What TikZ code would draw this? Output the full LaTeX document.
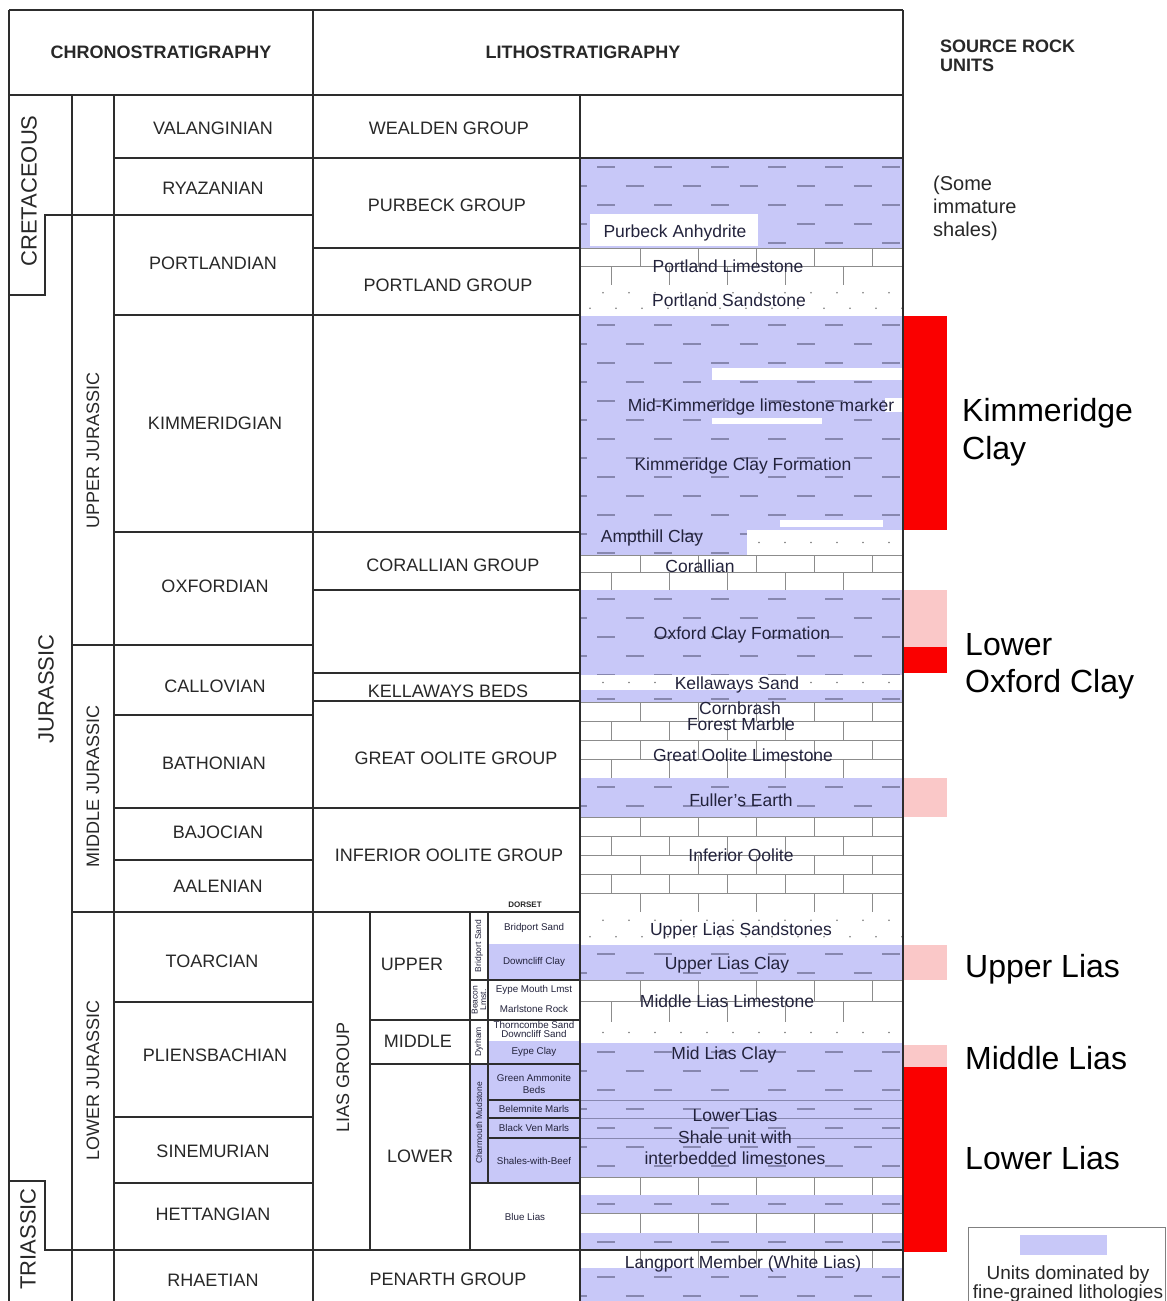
\documentclass[tikz,border=0pt]{standalone}
\usepackage{fontspec}
\setmainfont{Liberation Sans}
\definecolor{purp}{RGB}{200,200,248}
\definecolor{pinkc}{RGB}{250,200,200}
\definecolor{redc}{RGB}{250,0,0}
\definecolor{linec}{RGB}{45,45,45}
\definecolor{txtc}{RGB}{40,40,40}
\definecolor{ltxt}{RGB}{35,35,60}
\definecolor{dashc}{RGB}{135,135,175}
\definecolor{brickc}{RGB}{140,140,140}
\definecolor{dotc}{RGB}{120,120,120}
\tikzset{
 gl/.style={draw=linec, line width=1.1pt},
 shl/.style={draw=dashc, line width=1.2pt},
 lml/.style={draw=brickc, line width=0.9pt},
 stg/.style={font=\fontsize{18pt}{21pt}\selectfont, text=txtc, inner sep=0pt},
 sysn/.style={font=\fontsize{22pt}{26pt}\selectfont, text=txtc, inner sep=0pt, rotate=90},
 hdr/.style={font=\bfseries\fontsize{18pt}{21pt}\selectfont, text=txtc, inner sep=0pt},
 lit/.style={font=\fontsize{17.5pt}{21pt}\selectfont, text=ltxt, inner sep=0pt, text height=12.6pt, text depth=0pt},
 dor/.style={font=\fontsize{9.8pt}{10.5pt}\selectfont, text=ltxt, inner sep=0pt},
 dorv/.style={font=\fontsize{8.5pt}{8.5pt}\selectfont, text=ltxt, inner sep=0pt, rotate=90, align=center},
 bigl/.style={font=\fontsize{32pt}{37pt}\selectfont, text=black, inner sep=0pt, anchor=base west},
 srcl/.style={font=\fontsize{20pt}{23pt}\selectfont, text=txtc, inner sep=0pt, anchor=base west},
}
% shale: purple with staggered dashes
\newcommand\shalefill[4]{%
\begin{scope}
\clip (#1,#2) rectangle (#3,#4);
\fill[purp] (#1,#2) rectangle (#3,#4);
\pgfmathtruncatemacro\nrows{ceil((#4-#2)/19)}
\foreach \k in {0,...,\nrows}{
  \pgfmathsetmacro\yy{#2+9+19*\k}
  \pgfmathsetmacro\off{mod(\k,2)*28.5}
  \foreach \j in {-1,...,6}{
    \draw[shl] ({597+\off+57*\j},\yy) -- ++(18,0);
  }
}
\end{scope}}
% limestone: bricks
\newcommand\limefill[4]{%
\begin{scope}
\clip (#1,#2) rectangle (#3,#4);
\fill[white] (#1,#2) rectangle (#3,#4);
\pgfmathtruncatemacro\nr{max(1,round((#4-#2)/19))}
\pgfmathsetmacro\hh{(#4-#2)/\nr}
\foreach \k in {1,...,\nr}{
  \pgfmathsetmacro\ya{#2+\hh*(\k-1)}
  \pgfmathsetmacro\yb{#2+\hh*\k}
  \draw[lml] (#1,\yb) -- (#3,\yb);
  \pgfmathsetmacro\off{mod(\k,2)*29}
  \foreach \j in {0,...,4}{
    \draw[lml] ({611+\off+58*\j},\ya) -- ({611+\off+58*\j},\yb);
  }
}
\end{scope}
\draw[lml] (#1,#2) -- (#3,#2);}
% sandstone: dots
\newcommand\sandfill[4]{%
\begin{scope}
\clip (#1,#2) rectangle (#3,#4);
\fill[white] (#1,#2) rectangle (#3,#4);
\pgfmathtruncatemacro\nr{max(1,floor((#4-#2)/13))}
\foreach \k in {1,...,\nr}{
  \pgfmathsetmacro\yy{#2+(#4-#2)*(\k-0.5)/\nr}
  \pgfmathsetmacro\off{mod(\k,2)*13}
  \foreach \j in {0,...,12}{
    \fill[dotc] ({590+\off+26*\j},\yy) circle[radius=0.9pt];
  }
}
\end{scope}}
\begin{document}
\begin{tikzpicture}[x=1pt,y=-1pt]
\useasboundingbox (0,0) rectangle (1167,1301);
\fill[white] (0,0) rectangle (1167,1301);

%% lithology column
\shalefill{580}{158}{903}{248}
\fill[white] (590,214) rectangle (758,246);
\limefill{580}{248}{903}{285}
\sandfill{580}{285}{903}{316}
\shalefill{580}{316}{903}{555}
\fill[white] (712,368) rectangle (903,380);
\fill[white] (885,398) rectangle (903,412);
\fill[white] (712,418) rectangle (822,424);
\fill[white] (780,520) rectangle (883,527);
\sandfill{747}{530}{903}{555}
\limefill{580}{555}{903}{590}
\shalefill{580}{590}{903}{675}
\sandfill{580}{675}{903}{690}
\shalefill{580}{690}{903}{702}
\limefill{580}{702}{903}{778}
\shalefill{580}{778}{903}{817}
\limefill{580}{817}{903}{912}
\sandfill{580}{912}{903}{945}
\shalefill{580}{945}{903}{980}
\limefill{580}{980}{903}{1022}
\sandfill{580}{1022}{903}{1043}
\shalefill{580}{1043}{903}{1177}
\foreach \yy in {1100,1118,1138} \draw[draw=dashc, line width=0.8pt] (580,\yy) -- (903,\yy);
\limefill{580}{1177}{903}{1195}
\shalefill{580}{1195}{903}{1213}
\limefill{580}{1213}{903}{1233}
\shalefill{580}{1233}{903}{1250}
\limefill{580}{1250}{903}{1268}
\shalefill{580}{1268}{903}{1301}

%% source rock bars
\fill[redc] (903,316) rectangle (947,530);
\fill[pinkc] (903,590) rectangle (947,647);
\fill[redc] (903,647) rectangle (947,673);
\fill[pinkc] (903,778) rectangle (947,817);
\fill[pinkc] (903,945) rectangle (947,980);
\fill[pinkc] (903,1045) rectangle (947,1067);
\fill[redc] (903,1067) rectangle (947,1252);

%% Dorset column fills
\fill[purp] (488,944) rectangle (580,980);
\fill[purp] (488,1041) rectangle (580,1064);
\fill[purp] (470,1064) rectangle (580,1183);

%% frame and grid
\draw[gl] (9,10) -- (903,10);
\draw[gl] (9,95) -- (903,95);
\draw[gl] (9,10) -- (9,1301);
\draw[gl] (313,10) -- (313,1301);
\draw[gl] (903,10) -- (903,1301);
\draw[gl] (72,95) -- (72,1301);
\draw[gl] (114,95) -- (114,1301);
\draw[gl] (580,95) -- (580,1301);
\foreach \yy in {158,315,532,715,808,860,1002,1117,1183} \draw[gl] (114,\yy) -- (313,\yy);
\foreach \yy in {645,912} \draw[gl] (72,\yy) -- (313,\yy);
\draw[gl] (9,295) -- (45,295) -- (45,215) -- (313,215);
\draw[gl] (9,1181) -- (45,1181) -- (45,1250) -- (903,1250);
\foreach \yy in {248,315,532,590,673,701,808,912} \draw[gl] (313,\yy) -- (580,\yy);
\draw[gl] (313,158) -- (903,158);
% Lias subdivisions
\draw[gl] (370,912) -- (370,1250);
\draw[gl] (470,912) -- (470,1250);
\draw[gl] (488,912) -- (488,1183);
\draw[gl] (370,1020) -- (580,1020);
\draw[gl] (370,1064) -- (580,1064);
\draw[gl] (470,980) -- (580,980);
\foreach \yy in {1100,1118,1138} \draw[gl] (488,\yy) -- (580,\yy);
\draw[gl] (470,1183) -- (580,1183);

%% header texts
\node[hdr] (hchrono) at (161,52) {CHRONOSTRATIGRAPHY};
\node[hdr] (hlitho) at (583,52) {LITHOSTRATIGRAPHY};
\node[hdr, anchor=base west] (hsrc1) at (940,52) {SOURCE ROCK};
\node[hdr, anchor=base west] (hsrc2) at (940,71) {UNITS};

%% systems and series
\node[sysn] (cret) at (29,191) {CRETACEOUS};
\node[sysn] (jur) at (46,689) {JURASSIC};
\node[sysn] (tri) at (28,1239) {TRIASSIC};
\node[stg, rotate=90] (uj) at (93,450) {UPPER JURASSIC};
\node[stg, rotate=90] (mj) at (93,786) {MIDDLE JURASSIC};
\node[stg, rotate=90] (lj) at (93,1080) {LOWER JURASSIC};

%% stages
\node[stg] (s1) at (213,128) {VALANGINIAN};
\node[stg] (s2) at (213,188) {RYAZANIAN};
\node[stg] (s3) at (213,263) {PORTLANDIAN};
\node[stg] (s4) at (215,423) {KIMMERIDGIAN};
\node[stg] (s5) at (215,586) {OXFORDIAN};
\node[stg] (s6) at (215,686) {CALLOVIAN};
\node[stg] (s7) at (214,763) {BATHONIAN};
\node[stg] (s8) at (218,832) {BAJOCIAN};
\node[stg] (s9) at (218,886) {AALENIAN};
\node[stg] (s10) at (212,961) {TOARCIAN};
\node[stg] (s11) at (215,1055) {PLIENSBACHIAN};
\node[stg] (s12) at (213,1151) {SINEMURIAN};
\node[stg] (s13) at (213,1214) {HETTANGIAN};
\node[stg] (s14) at (213,1280) {RHAETIAN};

%% groups
\node[stg] (g1) at (449,128) {WEALDEN GROUP};
\node[stg] (g2) at (447,205) {PURBECK GROUP};
\node[stg] (g3) at (448,285) {PORTLAND GROUP};
\node[stg] (g4) at (453,565) {CORALLIAN GROUP};
\node[stg] (g5) at (448,691) {KELLAWAYS BEDS};
\node[stg] (g6) at (456,758) {GREAT OOLITE GROUP};
\node[stg] (g7) at (449,855) {INFERIOR OOLITE GROUP};
\node[stg] (g8) at (448,1279) {PENARTH GROUP};
\node[stg, rotate=90] (lias) at (343,1077) {LIAS GROUP};
\node[stg] (lu) at (412,964) {UPPER};
\node[stg] (lm) at (418,1041) {MIDDLE};
\node[stg] (ll) at (420,1156) {LOWER};

%% Dorset column
\node[font=\bfseries\fontsize{8pt}{9pt}\selectfont, text=txtc, inner sep=0pt] (dorset) at (525,905) {DORSET};
\node[dorv] (dv1) at (479,946) {Bridport Sand};
\node[dorv] (dv2) at (479,1000) {Beacon\\Lmst.};
\node[dorv] (dv3) at (479,1042) {Dyrham};
\node[dorv] (dv4) at (479,1123) {Charmouth Mudstone};
\node[dor] (d1) at (534,928) {Bridport Sand};
\node[dor] (d2) at (534,962) {Downcliff Clay};
\node[dor] (d3) at (534,990) {Eype Mouth Lmst};
\node[dor] (d4) at (534,1009) {Marlstone Rock};
\node[dor] (d5) at (534,1025) {Thorncombe Sand};
\node[dor] (d6) at (534,1034) {Downcliff Sand};
\node[dor] (d7) at (534,1052) {Eype Clay};
\node[dor] (d8) at (534,1078) {Green Ammonite};
\node[dor] (d9) at (534,1090) {Beds};
\node[dor] (d10) at (534,1109) {Belemnite Marls};
\node[dor] (d11) at (534,1128) {Black Ven Marls};
\node[dor] (d12) at (534,1161) {Shales-with-Beef};
\node[dor] (d13) at (525,1217) {Blue Lias};

%% lithology texts
\node[lit] (t1) at (675,231) {Purbeck Anhydrite};
\node[lit] (t2) at (728,266) {Portland Limestone};
\node[lit] (t3) at (729,300) {Portland Sandstone};
\node[lit] (t4) at (761,405) {Mid-Kimmeridge limestone marker};
\node[lit] (t5) at (743,464) {Kimmeridge Clay Formation};
\node[lit] (t6) at (652,536) {Ampthill Clay};
\node[lit] (t7) at (700,566) {Corallian};
\node[lit] (t8) at (742,633) {Oxford Clay Formation};
\node[lit] (t9) at (737,683) {Kellaways Sand};
\node[lit] (t10) at (740,708) {Cornbrash};
\node[lit] (t11) at (741,724) {Forest Marble};
\node[lit] (t12) at (743,755) {Great Oolite Limestone};
\node[lit] (t13) at (741,800) {Fuller's Earth};
\node[lit] (t14) at (741,855) {Inferior Oolite};
\node[lit] (t15) at (741,929) {Upper Lias Sandstones};
\node[lit] (t16) at (727,963) {Upper Lias Clay};
\node[lit] (t17) at (727,1001) {Middle Lias Limestone};
\node[lit] (t18) at (724,1053) {Mid Lias Clay};
\node[lit] (t19) at (735,1115) {Lower Lias};
\node[lit] (t20) at (735,1137) {Shale unit with};
\node[lit] (t21) at (735,1158) {interbedded limestones};
\node[lit] (t22) at (743,1262) {Langport Member (White Lias)};

%% source rock labels
\node[srcl] (r1) at (933,190) {(Some};
\node[srcl] (r2) at (933,213) {immature};
\node[srcl] (r3) at (933,236) {shales)};
\node[bigl] (k1) at (962,421) {Kimmeridge};
\node[bigl] (k2) at (962,459) {Clay};
\node[bigl] (o1) at (965,655) {Lower};
\node[bigl] (o2) at (965,692) {Oxford Clay};
\node[bigl] (ul) at (965,977) {Upper Lias};
\node[bigl] (ml) at (965,1069) {Middle Lias};
\node[bigl] (lw) at (965,1169) {Lower Lias};

%% legend
\draw[draw=gray, line width=1pt] (968,1301) -- (968,1227) -- (1165,1227) -- (1165,1301);
\fill[purp] (1020,1235) rectangle (1107,1255);
\node[font=\fontsize{19pt}{22pt}\selectfont, text=txtc, inner sep=0pt, anchor=base] (leg1) at (1068,1279) {Units dominated by};
\node[font=\fontsize{19pt}{22pt}\selectfont, text=txtc, inner sep=0pt, anchor=base] (leg2) at (1068,1298) {fine-grained lithologies};
\end{tikzpicture}
\end{document}
